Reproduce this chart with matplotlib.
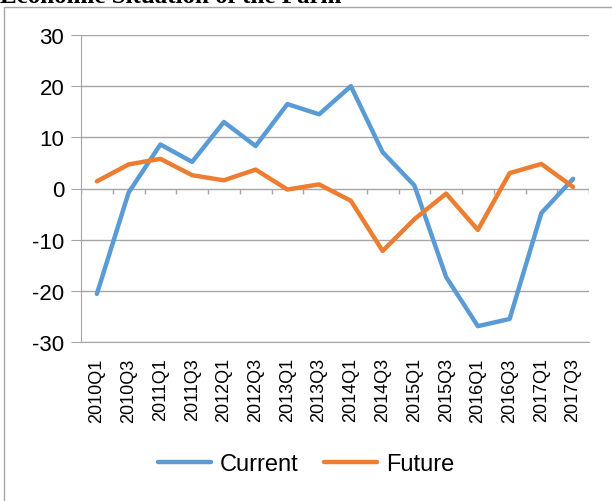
import numpy as np
import matplotlib
matplotlib.use("Agg")
import matplotlib.pyplot as plt
from matplotlib.patches import Rectangle

quarters = ['2010Q1', '2010Q3', '2011Q1', '2011Q3', '2012Q1', '2012Q3', '2013Q1', '2013Q3',
            '2014Q1', '2014Q3', '2015Q1', '2015Q3', '2016Q1', '2016Q3', '2017Q1', '2017Q3']
current = [-20.6, -0.8, 8.6, 5.2, 13.0, 8.3, 16.5, 14.5, 20.0, 7.1, 0.6, -17.3, -26.9, -25.5, -4.8, 1.9]
future = [1.4, 4.7, 5.8, 2.6, 1.6, 3.7, -0.2, 0.8, -2.4, -12.2, -6.0, -1.0, -8.1, 3.0, 4.8, 0.3]

plt.rcParams['font.family'] = ['Liberation Sans', 'DejaVu Sans']
plt.rcParams['axes.unicode_minus'] = False

fig = plt.figure(figsize=(6.12, 5.02), dpi=100)

# chart frame and cut-off title
fig.patches.append(Rectangle((4 / 612, -0.05), 1.2, 1.05 - 8 / 502, transform=fig.transFigure,
                             fill=False, edgecolor='#A6A6A6', linewidth=1.0))
fig.text(0.0, 1 - 3 / 502, 'Economic Situation of the Farm', family='Liberation Serif',
         fontweight='bold', fontsize=18, va='baseline', ha='left', color='black')

ax = fig.add_axes([81 / 612, 1 - 343 / 502, 508 / 612, 307 / 502])
x = np.arange(len(quarters))

ax.set_xlim(-0.5, len(quarters) - 0.5)
ax.set_ylim(-30, 30)
ax.set_yticks(np.arange(-30, 31, 10))
ax.grid(axis='y', color='#A6A6A6', linewidth=1.0)
ax.set_axisbelow(True)

# tick marks along the zero line between categories
ax.vlines(np.arange(len(quarters) + 1) - 0.5, -1.0, 0, color='#A6A6A6', linewidth=1.0)

ax.plot(x, current, color='#5B9BD5', linewidth=3.2, solid_capstyle='round', label='Current')
ax.plot(x, future, color='#ED7D31', linewidth=3.2, solid_capstyle='round', label='Future')

ax.set_xticks(x)
ax.set_xticklabels(quarters, rotation=90, fontsize=13)
ax.tick_params(axis='x', length=0, pad=11)
ax.tick_params(axis='y', length=7, color='#A6A6A6', labelsize=16, pad=5)

for s in ['top', 'right']:
    ax.spines[s].set_visible(False)
ax.spines['left'].set_color('#A6A6A6')
ax.spines['bottom'].set_color('#A6A6A6')

fig.legend(loc='center', bbox_to_anchor=(0.5, 1 - 465 / 502), ncol=2, frameon=False,
           fontsize=17, handlelength=2.25, handletextpad=0.35, columnspacing=1.1)

fig.savefig('out.png', dpi=100)
